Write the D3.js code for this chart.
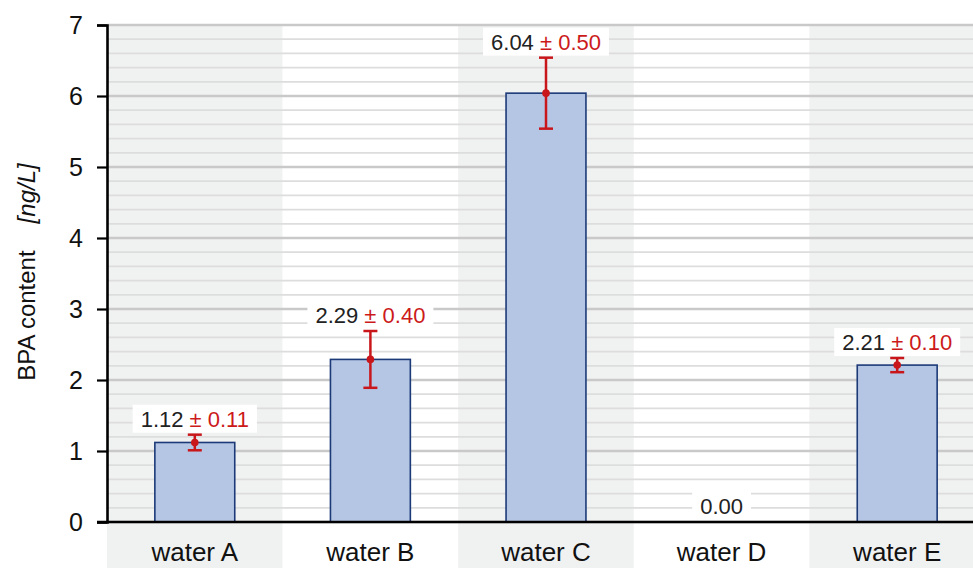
<!DOCTYPE html>
<html>
<head>
<meta charset="utf-8">
<script src="https://cdn.jsdelivr.net/npm/d3@7"></script>
<style>
  body { margin: 0; background: #fff; }
  svg { display: block; font-family: "Liberation Sans", Arial, sans-serif; }
</style>
</head>
<body>
<div id="chart"></div>
<script>
var categories = ["water A", "water B", "water C", "water D", "water E"];
var values = [1.12, 2.29, 6.04, 0.00, 2.21];
var errors = [0.11, 0.40, 0.50, 0, 0.10];
var yTicks = [0, 1, 2, 3, 4, 5, 6, 7];

var width = 973, height = 568;
var plotLeft = 107, plotRight = 985, plotTop = 25, plotBottom = 522;

var svg = d3.select("#chart").append("svg")
    .attr("width", width)
    .attr("height", height);

var x = d3.scaleBand().domain(categories).range([plotLeft, plotRight]).padding(0);
var y = d3.scaleLinear().domain([0, 7]).range([plotBottom, plotTop]);

// alternating band backgrounds
svg.append("g").selectAll("rect")
  .data(categories)
  .join("rect")
  .attr("x", d => x(d))
  .attr("y", plotTop)
  .attr("width", x.bandwidth())
  .attr("height", height - plotTop)
  .attr("fill", (d, i) => i % 2 == 0 ? "#f0f1f1" : "#ffffff");

// grid lines, minor every 0.2, major every 1
var grid = d3.range(0, 36).map(i => i / 5);
svg.append("g").selectAll("line")
  .data(grid)
  .join("line")
  .attr("x1", plotLeft)
  .attr("x2", width)
  .attr("y1", d => y(d))
  .attr("y2", d => y(d))
  .attr("stroke", (d, i) => i % 5 == 0 ? "#c9c9c9" : "#dddddd")
  .attr("stroke-width", (d, i) => i % 5 == 0 ? 2.5 : 1.8);

// bars
var barW = x.bandwidth() * 0.455;
svg.append("g").selectAll("rect")
  .data(values)
  .join("rect")
  .attr("x", (d, i) => x(categories[i]) + (x.bandwidth() - barW) / 2)
  .attr("y", d => y(d))
  .attr("width", barW)
  .attr("height", d => plotBottom - y(d))
  .attr("fill", "#b5c5e4")
  .attr("stroke", "#1c3a78")
  .attr("stroke-width", 1.6)
  .attr("display", d => d > 0 ? null : "none");

// value labels with white box
var labels = svg.append("g").selectAll("g")
  .data(values)
  .join("g")
  .attr("transform", (d, i) => "translate(" + (x(categories[i]) + x.bandwidth() / 2) + "," + (y(d + errors[i]) - 8) + ")");

labels.each(function(d, i) {
  var g = d3.select(this);
  var box = g.append("rect").attr("fill", "#fff");
  var t = g.append("text")
    .attr("text-anchor", "middle")
    .attr("font-size", 22);
  t.append("tspan").attr("fill", "#222").text(d.toFixed(2));
  if (errors[i] > 0) {
    t.append("tspan").attr("fill", "#cc1a1a").text(" ± " + errors[i].toFixed(2));
  }
  var bb = t.node().getBBox();
  box.attr("x", bb.x - 8).attr("y", bb.y - 2).attr("width", bb.width + 16).attr("height", bb.height + 3);
});

// error bars
var eb = svg.append("g").selectAll("g")
  .data(values)
  .join("g")
  .attr("display", (d, i) => errors[i] > 0 ? null : "none")
  .attr("transform", (d, i) => "translate(" + (x(categories[i]) + x.bandwidth() / 2) + ",0)");

eb.append("line")
  .attr("y1", (d, i) => y(d - errors[i]))
  .attr("y2", (d, i) => y(d + errors[i]))
  .attr("stroke", "#c8161b").attr("stroke-width", 2.5);
[-1, 1].forEach(s => {
  eb.append("line")
    .attr("x1", -7).attr("x2", 7)
    .attr("y1", (d, i) => y(d + s * errors[i]))
    .attr("y2", (d, i) => y(d + s * errors[i]))
    .attr("stroke", "#c8161b").attr("stroke-width", 2.5);
});
eb.append("circle")
  .attr("cy", d => y(d))
  .attr("r", 3.8)
  .attr("fill", "#c8161b");

// axes
var yAxis = svg.append("g")
  .attr("transform", "translate(" + plotLeft + ",0)")
  .call(d3.axisLeft(y).tickValues(yTicks).tickSize(10).tickPadding(14).tickFormat(d3.format("d")));
yAxis.select(".domain").attr("stroke", "#000").attr("stroke-width", 2.6);
yAxis.selectAll(".tick line").attr("stroke", "#000").attr("stroke-width", 2.2);
yAxis.selectAll(".tick text").attr("font-size", 25).attr("fill", "#111")
  .attr("font-family", "Liberation Sans, Arial, sans-serif");

svg.append("line")
  .attr("x1", plotLeft - 10).attr("x2", width)
  .attr("y1", plotBottom).attr("y2", plotBottom)
  .attr("stroke", "#000").attr("stroke-width", 2.6);

svg.append("g").selectAll("text")
  .data(categories)
  .join("text")
  .attr("x", d => x(d) + x.bandwidth() / 2)
  .attr("y", 561)
  .attr("text-anchor", "middle")
  .attr("font-size", 26)
  .attr("fill", "#111")
  .text(d => d);

// y title
var title = svg.append("text")
  .attr("transform", "translate(35,272) rotate(-90)")
  .attr("text-anchor", "middle")
  .attr("font-size", 24)
  .attr("fill", "#111");
title.append("tspan").text("BPA content");
title.append("tspan").attr("dx", 27).attr("font-style", "italic").text("[ng/L]");
</script>
</body>
</html>
